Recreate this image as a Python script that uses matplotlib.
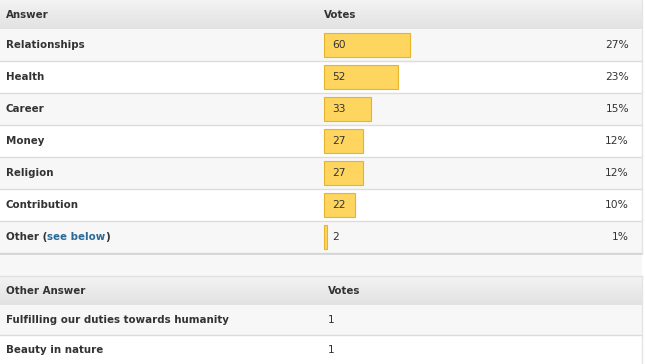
import numpy as np
import matplotlib.pyplot as plt
from matplotlib.colors import LinearSegmentedColormap

answers = ["Relationships", "Health", "Career", "Money", "Religion", "Contribution", "Other"]
votes = [60, 52, 33, 27, 27, 22, 2]
percents = ["27%", "23%", "15%", "12%", "12%", "10%", "1%"]

other_answers = ["Fulfilling our duties towards humanity", "Beauty in nature"]
other_votes = [1, 1]

W, H = 645, 364
plt.rcParams['font.family'] = ['DejaVu Sans']
fig = plt.figure(figsize=(W / 100, H / 100), dpi=100)
ax = fig.add_axes([0, 0, 1, 1])
ax.set_xlim(0, W)
ax.set_ylim(H, 0)
ax.axis("off")

txt = "#333333"
line = "#dcdcdc"
table_r = 642
px_per_vote = 1.43
fs = 7.4
grad_cmap = LinearSegmentedColormap.from_list("g", ["#f3f3f3", "#e2e2e2"])


def header(y0, y1, left_label, right_label, right_x):
    grad = np.linspace(0, 1, 50).reshape(-1, 1)
    ax.imshow(grad, cmap=grad_cmap, extent=[0, table_r, y1, y0], aspect="auto", zorder=1)
    ax.text(6, (y0 + y1) / 2, left_label, fontsize=fs, fontweight="bold", color=txt, va="center", zorder=4)
    ax.text(right_x, (y0 + y1) / 2, right_label, fontsize=fs, fontweight="bold", color=txt, va="center", zorder=4)


# first table
header(0, 29, "Answer", "Votes", 324)
row_h = 32
for i, (a, v, p) in enumerate(zip(answers, votes, percents)):
    y0 = 29 + i * row_h
    yc = y0 + row_h / 2
    bg = "#f7f7f7" if i % 2 == 0 else "white"
    ax.add_patch(plt.Rectangle((0, y0), table_r, row_h, facecolor=bg, edgecolor="none", zorder=0.5))
    ax.plot([0, table_r], [y0 + row_h, y0 + row_h], color=line, lw=1, zorder=2)
    if a == "Other":
        t1 = ax.text(6, yc, "Other (", fontsize=fs, fontweight="bold", color=txt, va="center")
        t2 = ax.annotate("see below", xycoords=t1, xy=(1, 0.5), va="center", fontsize=fs,
                         fontweight="bold", color="#2a6a96")
        ax.annotate(")", xycoords=t2, xy=(1, 0.5), va="center", fontsize=fs,
                    fontweight="bold", color=txt)
    else:
        ax.text(6, yc, a, fontsize=fs, fontweight="bold", color=txt, va="center")
    ax.barh(yc, v * px_per_vote, left=324, height=24, color="#fdd55f", edgecolor="#e6b52b",
            lw=0.8, zorder=3)
    ax.text(332, yc + 0.5, str(v), fontsize=fs + 0.3, color=txt, va="center", zorder=4)
    ax.text(629, yc + 0.5, p, fontsize=fs + 0.3, color=txt, va="center", ha="right", zorder=4)

# gap between tables
ax.add_patch(plt.Rectangle((0, 253), table_r, 23, facecolor="#f7f7f7", edgecolor="none", zorder=0.5))
ax.plot([0, table_r], [253.5, 253.5], color="#d4d4d4", lw=1.2, zorder=2)
ax.plot([table_r, table_r], [0, 253], color="#e4e4e4", lw=1, zorder=2)
ax.plot([0, table_r], [275.5, 275.5], color="#e2e2e2", lw=1, zorder=2)

# second table
header(276, 305, "Other Answer", "Votes", 328)
for i, (a, v) in enumerate(zip(other_answers, other_votes)):
    y0 = 305 + i * 30
    yc = y0 + 15
    bg = "#f7f7f7" if i % 2 == 0 else "white"
    ax.add_patch(plt.Rectangle((0, y0), table_r, 30, facecolor=bg, edgecolor="none", zorder=0.5))
    ax.plot([0, table_r], [y0 + 30, y0 + 30], color=line, lw=1, zorder=2)
    ax.text(6, yc, a, fontsize=fs, fontweight="bold", color=txt, va="center")
    ax.text(328, yc, str(v), fontsize=fs + 0.3, color=txt, va="center")
ax.plot([table_r, table_r], [276, H], color="#e4e4e4", lw=1, zorder=2)

fig.savefig("out.png", dpi=100)
